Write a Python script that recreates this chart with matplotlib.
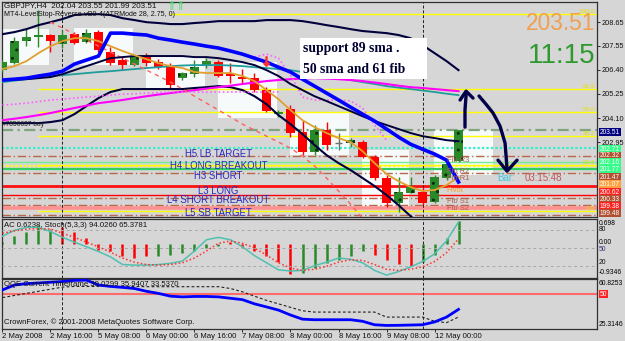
import matplotlib
matplotlib.use("Agg")
import matplotlib.pyplot as plt
import matplotlib.transforms as mtransforms
from matplotlib.patches import Rectangle
import numpy as np

plt.rcParams['font.family'] = ['Liberation Sans', 'DejaVu Sans']

# ---------------- data ----------------
opens  = [206.38, 206.71, 207.76, 207.97, 208.05, 207.60, 208.10, 207.73, 208.20, 207.25,
          206.86, 206.62, 207.01, 206.78, 206.54, 206.00, 206.22, 206.57, 206.78, 206.19,
          206.06, 205.99, 205.43, 204.30, 204.51, 203.45, 202.50, 203.53, 202.90, 202.90,
          202.97, 202.26, 201.26, 200.04, 200.55, 200.60, 200.12, 201.23, 202.04]
highs  = [206.86, 207.97, 208.38, 209.23, 208.10, 208.28, 208.20, 208.32, 208.28, 207.49,
          207.01, 207.10, 207.19, 206.90, 206.70, 206.30, 206.86, 206.94, 206.86, 206.70,
          206.43, 206.24, 205.59, 204.48, 204.72, 204.00, 203.77, 203.92, 203.39, 203.15,
          203.05, 202.34, 201.39, 201.31, 201.31, 200.83, 201.39, 202.10, 203.55]
lows   = [206.29, 206.65, 207.54, 207.49, 207.25, 207.43, 207.62, 207.65, 207.24, 206.62,
          206.38, 206.57, 206.57, 206.43, 205.51, 205.91, 206.06, 206.48, 206.06, 205.75,
          205.76, 205.35, 204.40, 204.14, 203.21, 202.34, 202.34, 202.58, 202.58, 202.72,
          202.20, 201.15, 199.88, 199.64, 200.52, 199.96, 200.04, 201.15, 201.99]
closes = [206.76, 207.76, 207.97, 208.05, 207.78, 208.05, 207.68, 208.16, 207.33, 206.70,
          206.62, 207.01, 206.70, 206.54, 205.67, 206.22, 206.54, 206.82, 206.10, 206.10,
          205.94, 205.43, 204.45, 204.40, 203.37, 202.50, 203.53, 202.82, 202.92, 203.05,
          202.26, 201.23, 200.04, 200.60, 200.83, 200.04, 201.28, 201.91, 203.51]

time_label_bars = [0, 4, 8, 12, 16, 20, 24, 28, 32, 36]
time_labels = ['2 May 2008', '2 May 16:00', '5 May 08:00', '6 May 00:00', '6 May 16:00',
               '7 May 08:00', '8 May 00:00', '8 May 16:00', '9 May 08:00', '12 May 00:00']
separator_bars = [5, 35]
price_ticks = [208.65, 207.55, 206.40, 205.25, 204.10, 202.95]

upper_band = [208.09, 208.19, 208.33, 208.52, 208.66, 208.81, 209.00, 209.04, 209.04, 209.00,
              208.85, 208.76, 208.66, 208.62, 208.57, 208.57, 208.62, 208.66, 208.71, 208.71,
              208.71, 208.71, 208.76, 208.76, 208.76, 208.71, 208.62, 208.52, 208.43, 208.33,
              208.24, 208.19, 208.14, 208.05, 207.90, 207.57, 207.19, 206.81, 206.38]
mid_band = [205.91, 205.93, 205.95, 206.00, 206.05, 206.19, 206.38, 206.57, 206.76, 206.95,
            207.00, 207.05, 207.05, 207.05, 207.05, 207.05, 207.00, 207.00, 206.95, 206.86,
            206.76, 206.62, 206.38, 206.10, 205.72, 205.43, 205.14, 204.91, 204.67, 204.43,
            204.19, 203.96, 203.77, 203.58, 203.39, 203.24, 203.15, 203.05, 203.00]
lower_band = [203.86, 203.86, 203.86, 203.86, 203.91, 204.00, 204.29, 204.67, 205.05, 205.34,
              205.48, 205.48, 205.48, 205.48, 205.48, 205.48, 205.53, 205.57, 205.62, 205.57,
              205.43, 205.14, 204.76, 204.24, 203.81, 203.34, 202.82, 202.34, 201.96, 201.63,
              201.25, 200.87, 200.44, 199.96, 199.44, 198.92, 198.39]
blue_ma = [205.91, 205.95, 206.00, 206.10, 206.19, 206.33, 206.67, 206.86, 207.05, 208.14,
           208.14, 208.09, 208.05, 207.90, 207.81, 207.71, 207.62, 207.52, 207.43, 207.29,
           207.14, 206.95, 206.76, 206.52, 206.29, 205.95, 205.62, 205.29, 204.96, 204.62,
           204.29, 203.96, 203.58, 203.20, 202.86, 202.62, 202.39, 202.10, 201.06]
orange_ma = [206.43, 206.57, 206.81, 207.19, 207.52, 207.76, 207.90, 207.90, 207.76, 207.52,
             207.29, 207.09, 206.90, 206.71, 206.57, 206.48, 206.29, 206.24, 206.24, 206.24,
             206.10, 205.86, 205.43, 205.00, 204.48, 204.00, 203.67, 203.39, 203.15, 202.96,
             202.53, 201.96, 201.44, 201.10, 200.82, 200.63, 200.68, 200.91, 201.29]
magenta_ma = [204.00, 204.07, 204.15, 204.24, 204.34, 204.46, 204.58, 204.69, 204.81, 204.88,
              204.96, 205.05, 205.14, 205.22, 205.29, 205.36, 205.43, 205.50, 205.57, 205.64,
              205.72, 205.79, 205.86, 205.91, 205.95, 205.98, 206.00, 205.98, 205.95, 205.91,
              205.86, 205.79, 205.72, 205.64, 205.57, 205.53, 205.48, 205.43, 205.38]
teal_ma = [205.81, 205.88, 205.95, 206.02, 206.10, 206.14, 206.19, 206.24, 206.29, 206.33,
           206.38, 206.43, 206.48, 206.52, 206.57, 206.60, 206.62, 206.62, 206.62, 206.60,
           206.57, 206.52, 206.48, 206.43, 206.38, 206.29, 206.19, 206.10, 206.00, 205.91,
           205.81, 205.72, 205.62, 205.55, 205.48, 205.41, 205.34, 205.26, 205.19]
stop_start_bar = 4
stop_line = [208.66, 208.38, 208.09, 207.81, 207.52, 207.24, 206.95, 206.67, 206.38, 206.10,
             205.81, 205.48, 205.14, 204.81, 204.48, 204.15, 203.81, 203.53, 203.24, 202.96,
             202.67, 202.29, 201.82, 201.25, 200.63, 200.01, 199.34]
pink_a = [204.72, 204.76, 204.81, 204.88, 204.96, 205.00, 205.05, 205.10, 205.14, 205.19,
          205.24, 205.26, 205.29, 205.31, 205.34, 205.34, 205.34, 205.34, 205.34, 205.34,
          205.34, 205.34, 205.34, 205.34]
pink_b_start_bar = 21
pink_b = [207.00, 207.14, 206.95, 206.14, 205.10, 204.96, 204.96, 204.96, 204.91, 204.58,
          203.77, 203.05]

session_start = [-1.1, 5.95, 11.95, 17.95, 23.95, 29.95, 35.95]
session_end = [3.9, 10.9, 16.9, 22.9, 28.9, 33.9, 40.9]
session_high = [208.33, 208.38, 207.00, 206.76, 204.34, 202.58, 203.53]
session_low = [206.62, 206.62, 205.53, 204.10, 202.34, 199.73, 201.39]

fib_prices = [209.05, 205.47, 204.37, 203.26, 201.89, 199.68]
fib_labels = ['100.0', '61.8', '50.0', '38.2', '23.6', '0.0']
fib_start = [14, 3, 3, 3, 3, 3]

level_prices = [203.51, 202.70, 202.32, 202.03, 201.82, 201.67, 201.47, 200.87, 200.44,
                200.32, 199.99, 199.82, 199.49]
level_colors = ['#7fa47f', '#30f0c8', '#b86848', '#70ee90', '#ffff00', '#30d060', '#b86848',
                '#ff1010', '#ff0000', '#b86848', '#b86848', '#ff9090', '#b86848']
level_styles = ['dashdot', 'dotted', 'bdash', 'solid', 'dotted', 'solid', 'bdash',
                'solid', 'solid', 'bdash', 'bdash', 'solid', 'bdash']
level_widths = [1.6, 1.6, 1.0, 1.0, 1.6, 1.6, 1.0, 2.0, 1.0, 1.0, 1.0, 2.6, 1.0]

pivot_texts = ['H5 LB TARGET', 'H4 LONG BREAKOUT', 'H3 SHORT', 'L3 LONG',
               'L4 SHORT BREAKOUT', 'L5 SB TARGET']
pivot_text_prices = [202.41, 201.80, 201.33, 200.63, 200.20, 199.58]
pivot_text_bar = 18.0

fibpiv_texts = ['Fib R3', 'Fib R2', 'Fib R1', 'Pivot', 'Fib S1', 'Fib S2']
fibpiv_prices = [202.10, 201.55, 201.22, 200.68, 200.15, 199.82]
fibpiv_colors = ['#a86050', '#a86050', '#a86050', '#ff9a20', '#a86050', '#a86050']
fibpiv_bar = 37.0

axis_box_texts = ['203.51', '202.71', '202.32', '202.16', '201.77', '201.47', '201.07',
                  '200.62', '200.33', '199.38', '199.48']
axis_box_prices = [203.43, 202.62, 202.30, 201.98, 201.65, 201.29, 200.94, 200.58, 200.25,
                   199.91, 199.58]
axis_box_colors = ['#000080', '#33ff88', '#b05030', '#33ff88', '#33ff88', '#b05030',
                   '#ffa040', '#ff2020', '#b05030', '#ff2020', '#b05030']

signal_bars = [22]
signal_prices = [206.80]

ac_values = [0.05, 0.20, 0.32, 0.51, 0.41, 0.46, 0.32, 0.17, -0.16, -0.19,
             -0.35, -0.40, -0.35, -0.35, -0.30, -0.26, -0.21, -0.13, -0.05, 0.04,
             -0.08, -0.21, -0.35, -0.50, -0.83, -0.80, -0.66, -0.54, -0.45, -0.35,
             -0.21, -0.30, -0.45, -0.55, -0.62, -0.50, -0.30, 0.15, 0.62]
ac_up = list('ggggg' 'rrrrrrrr' 'gggggg' 'rrrrrr' 'gggggg' 'rrrr' 'gggg')
stoch_main = [70, 80, 85, 85, 78, 68, 60, 52, 44, 35, 22, 21, 21, 22, 24, 28, 45, 64, 68, 64,
              52, 37, 25, 13, 11, 12, 20, 26, 33, 31, 25, 12, 4, 10, 18, 27, 40, 62, 94.03]
stoch_signal = [75, 79, 82, 83, 82, 75, 68, 60, 52, 43, 33, 26, 22, 21, 22, 25, 33, 45, 58, 62,
                58, 50, 38, 25, 16, 12, 14, 19, 26, 30, 29, 22, 14, 12, 14, 18, 27, 42, 65.38]
stoch_levels = [80, 50, 20]

qqe_main = [53, 56.5, 57.5, 58, 58.5, 59, 59.8, 60, 56.5, 55.5, 54.8, 54, 52, 50.5, 48.5,
            48, 48.3, 48.3, 48, 47, 46, 43, 40.8, 38.5, 35, 32, 31.6, 31.6, 31.6, 31.6,
            30.5, 28, 27.5, 27.6, 27.8, 28, 30, 33.5, 39.03]
qqe_trail = [47.5, 49, 50.5, 52, 53.5, 55, 55.5, 55.5, 55.5, 55.5, 55.5, 55.5, 55.3, 55.3,
             55.3, 55.3, 55.3, 55.3, 55.3, 54, 51.6, 48.5, 45.5, 43, 40.5, 38, 37.1, 37.1,
             37.1, 37.1, 37.1, 37.1, 33.5, 33.5, 33.5, 33.5, 30.5, 29.5, 33.54]
qqe_level = 50

# hand-drawn annotation strokes (bar, price)
arrow1_x = [38.54, 38.54, 38.63]
arrow1_y = [203.67, 204.48, 205.19]
arrow1_head_x = [38.13, 38.63, 39.21]
arrow1_head_y = [204.96, 205.38, 205.05]
arrow2_x = [39.71, 40.29, 40.88, 41.46, 41.88, 42.04]
arrow2_y = [205.15, 204.76, 204.34, 203.72, 202.91, 201.72]
arrow2_head_x = [41.29, 42.04, 42.88]
arrow2_head_y = [202.10, 201.58, 202.10]

# ---------------- figure ----------------
W, H = 625, 341
BG = '#d6d6d6'
fig = plt.figure(figsize=(W / 100, H / 100), dpi=100, facecolor=BG)


def rect(l, t, r, b):
    return [l / W, 1 - b / H, (r - l) / W, (b - t) / H]


def ftext(px, py, s, **kw):
    fig.text(px / W, 1 - py / H, s, **kw)


ax = fig.add_axes(rect(2, 2, 597, 216.5), facecolor=BG)
ax2 = fig.add_axes(rect(2, 218.5, 597, 277.5), facecolor=BG, sharex=ax)
ax3 = fig.add_axes(rect(2, 279, 597, 328.5), facecolor=BG, sharex=ax)

XMAX = 49.54
xb = np.arange(len(closes))
ax.set_xlim(-0.04, XMAX)
ax.set_ylim(199.42, 209.62)

styles = {'dashdot': (0, (5, 2, 1, 2)), 'dotted': (0, (1, 1)), 'bdash': (0, (6, 2, 1, 2)),
          'solid': '-'}

# session boxes
for s, e, t, b in zip(session_start, session_end, session_high, session_low):
    ax.add_patch(Rectangle((s, b), e - s, t - b, fc='#f6fafa', ec='none', zorder=0.5))

# horizontal levels
for p, c, st, lw in zip(level_prices, level_colors, level_styles, level_widths):
    ax.axhline(p, color=c, ls=styles[st], lw=lw, zorder=1)

# fib levels
for p, lab, s in zip(fib_prices, fib_labels, fib_start):
    ax.hlines(p, s, XMAX, color='#ffff00', lw=1.0, zorder=1.2)
    ax.text(XMAX - 0.15, p, lab, ha='right', va='bottom', fontsize=4.6, color='#e6e000',
            zorder=5)

# candles
GREEN, RED = '#2a8a2a', '#ff0000'
for i, o, h, l, c in zip(xb, opens, highs, lows, closes):
    if c - o > 0.03:
        col = GREEN
    elif o - c > 0.03:
        col = RED
    else:
        col = '#707070'
    ax.vlines(i, l, h, color=col, lw=1.0, zorder=3)
    if col == '#707070':
        ax.hlines(c, i - 0.33, i + 0.33, color=col, lw=1.0, zorder=3)
    else:
        ax.add_patch(Rectangle((i - 0.34, min(o, c)), 0.68, abs(c - o), fc=col, ec='none',
                               lw=0, zorder=3.1))
        if col == GREEN:
            ax.add_patch(Rectangle((i - 0.34, min(o, c)), 0.68, abs(c - o), fc='none',
                                   ec='#0c2c0c', lw=0, hatch='..', zorder=3.2))

# indicator lines
ax.plot(xb, upper_band, color='#00003c', lw=1.5, zorder=4)
ax.plot(xb[:len(lower_band)], lower_band, color='#00003c', lw=1.5, zorder=4)
ax.plot(xb, teal_ma, color='#209c9c', lw=1.3, zorder=4)
ax.plot(xb, magenta_ma, color='#ff00ff', lw=1.5, zorder=4)
ax.plot(xb[:len(pink_a)], pink_a, color='#ff60ff', lw=1.2, ls=(0, (1, 1.5)), zorder=4)
ax.plot(xb[pink_b_start_bar:pink_b_start_bar + len(pink_b)], pink_b, color='#ff60ff',
        lw=1.2, ls=(0, (1, 1.5)), zorder=4)
ax.plot(xb[stop_start_bar:stop_start_bar + len(stop_line)], stop_line, color='#ff6060',
        lw=1.0, ls=(0, (3, 3)), zorder=4)
ax.plot(xb, mid_band, color='#00003c', lw=1.4, zorder=4.2)
ax.plot(xb, orange_ma, color='#e0a030', lw=1.3, zorder=4.3)
ax.plot(xb, blue_ma, color='#0000ff', lw=2.6, zorder=4.4)
ax.scatter(signal_bars, signal_prices, marker=r'$\downarrow$', s=45, color='#ff3030', zorder=5)

# pivot labels
for t, p in zip(pivot_texts, pivot_text_prices):
    ax.text(pivot_text_bar, p, t, ha='center', va='center', fontsize=6.9, color='#2828c0',
            zorder=5)
for t, p, c in zip(fibpiv_texts, fibpiv_prices, fibpiv_colors):
    ax.text(fibpiv_bar, p, t, ha='left', va='center', fontsize=5.4, color=c, zorder=5)

ax.text(41.2, 201.25, 'Bar:', ha='left', va='center', fontsize=7, color='#40c8e0', zorder=5)
ax.text(43.5, 201.25, '03:15:48', ha='left', va='center', fontsize=7, color='#c05858',
        zorder=5)
ax.text(0.0, 203.81, '#7856637 buy', ha='left', va='center', fontsize=4.8, color='#202020',
        zorder=5)

# support note
ax.add_patch(Rectangle((24.79, 205.95), 10.58, 1.95, fc='white', ec='none', zorder=6))
ax.text(25.05, 207.43, 'support 89 sma .', ha='left', va='center', fontsize=9.8,
        fontweight='bold', family=['Liberation Serif', 'DejaVu Serif'], color='#000030',
        zorder=7)
ax.text(25.05, 206.43, '50 sma and 61 fib', ha='left', va='center', fontsize=9.8,
        fontweight='bold', family=['Liberation Serif', 'DejaVu Serif'], color='#000030',
        zorder=7)

# hand-drawn arrows
for xs, ys in ((arrow1_x, arrow1_y), (arrow1_head_x, arrow1_head_y),
               (arrow2_x, arrow2_y), (arrow2_head_x, arrow2_head_y)):
    ax.plot(xs, ys, color='#00004a', lw=2.4, solid_capstyle='round',
            solid_joinstyle='round', zorder=7)

# right-side axis
ax.yaxis.tick_right()
ax.set_yticks(price_ticks)
ax.set_yticklabels(['%.2f' % p for p in price_ticks])
ax.tick_params(axis='y', length=2, width=0.6, pad=1.2, labelsize=5.3, colors='#101010')
ax.tick_params(axis='x', bottom=False, labelbottom=False)
trans = mtransforms.blended_transform_factory(ax.transAxes, ax.transData)
for t, p, c in zip(axis_box_texts, axis_box_prices, axis_box_colors):
    ax.text(1.005, p, t, transform=trans, ha='left', va='center', fontsize=4.8,
            color='white', clip_on=False, zorder=8,
            bbox=dict(boxstyle='square,pad=0.1', fc=c, ec='none'))

# ---------- AC + Stochastic panel ----------
ax2.set_ylim(-0.9346, 0.698)
ax2.vlines(xb, 0, ac_values, colors=[GREEN if u == 'g' else RED for u in ac_up], lw=1.8,
           zorder=2)
ax2s = ax2.twinx()
ax2s.set_ylim(0, 100)
for lv in stoch_levels:
    ax2s.axhline(lv, color='#a8a8a8', lw=0.7, ls=(0, (3, 3)), zorder=1)
ax2s.plot(xb, stoch_main, color='#50c0b0', lw=1.1, zorder=3)
ax2s.plot(xb, stoch_signal, color='#ff3030', lw=1.1, ls=(0, (1, 1.5)), zorder=3)
ax2.tick_params(left=False, labelleft=False, bottom=False, labelbottom=False, right=False)
ax2s.tick_params(right=False, labelright=False)
t2 = mtransforms.blended_transform_factory(ax2.transAxes, ax2.transData)
t2s = mtransforms.blended_transform_factory(ax2s.transAxes, ax2s.transData)
SUB = 4.9
stoch_label_pos = {80: 82, 50: 47, 20: 26}
ax2.text(1.003, 0.66, '0.698', transform=t2, ha='left', va='top', fontsize=SUB,
         clip_on=False)
ax2.text(1.003, -0.9, '-0.9346', transform=t2, ha='left', va='bottom', fontsize=SUB,
         clip_on=False)
ax2.text(1.003, 0.03, '0.00', transform=t2, ha='left', va='center', fontsize=SUB,
         clip_on=False)
for lv in stoch_levels:
    ax2s.text(1.003, stoch_label_pos[lv], str(lv), transform=t2s, ha='left', va='center',
              fontsize=SUB, color='#303080' if lv == 50 else '#101010', clip_on=False)
ax2.text(0.004, 0.88, 'AC 0.6238, Stoch(5,3,3) 94.0260 65.3781', transform=ax2.transAxes,
         ha='left', va='center', fontsize=5.6, color='#101010')

# ---------- QQE panel ----------
ax3.set_ylim(25.3146, 60.8253)
ax3.axhline(qqe_level, color='#ff6a6a', lw=1.5, zorder=1)
ax3.plot(xb, qqe_trail, color='#202020', lw=0.8, ls=(0, (2.5, 2)), zorder=2)
ax3.plot(xb, qqe_main, color='#0000ff', lw=2.0, zorder=3)
ax3.text(0.004, 0.88, 'QQE Current Timeframe 39.0299 35.9407 33.5370',
         transform=ax3.transAxes, ha='left', va='center', fontsize=5.6, color='#101010')
ax3.text(0.004, 0.12, 'CrownForex, \u00a9 2001-2008 MetaQuotes Software Corp.',
         transform=ax3.transAxes, ha='left', va='center', fontsize=5.6, color='#101010')
t3 = mtransforms.blended_transform_factory(ax3.transAxes, ax3.transData)
ax3.text(1.003, 60.3, '60.8253', transform=t3, ha='left', va='top', fontsize=SUB,
         clip_on=False)
ax3.text(1.003, 26.0, '25.3146', transform=t3, ha='left', va='bottom', fontsize=SUB,
         clip_on=False)
ax3.text(1.005, qqe_level, str(qqe_level), transform=t3, ha='left', va='center',
         fontsize=SUB, color='white', clip_on=False,
         bbox=dict(boxstyle='square,pad=0.12', fc='#ff2020', ec='none'))
ax3.set_xticks(time_label_bars)
ax3.set_xticklabels(time_labels, ha='left')
ax3.tick_params(axis='x', length=2, width=0.6, pad=1.5, labelsize=5.6, colors='#101010')
ax3.tick_params(left=False, labelleft=False)

# separators and spines
for a in (ax, ax2, ax3):
    for sb in separator_bars:
        a.axvline(sb, color='#202020', lw=0.7, ls=(0, (3, 2)), zorder=2)
    for sp in a.spines.values():
        sp.set_color('#303030')
        sp.set_linewidth(0.9)
for sp in ax2s.spines.values():
    sp.set_visible(False)

# header texts and clock
ftext(4, 5.5, 'GBPJPY,H4  202.04 203.55 201.99 203.51', ha='left', va='center',
      fontsize=5.8, color='#101010')
ftext(4, 14, 'MT4-LevelStop-Reverse-vB0-4(ATRMode 28, 2.75, 0)', ha='left', va='center',
      fontsize=5.1, color='#101010')
ftext(176, 6, '\u21d1\u21d1', ha='center', va='center', fontsize=8.5, color='#33dd66',
      family=['DejaVu Sans'])
ftext(595, 24, '203.51', ha='right', va='center', fontsize=16.4, color='#f0a050')
ftext(595, 56, '11:15', ha='right', va='center', fontsize=20, color='#2e9a2e')

fig.savefig('out.png', dpi=100, facecolor=BG)
